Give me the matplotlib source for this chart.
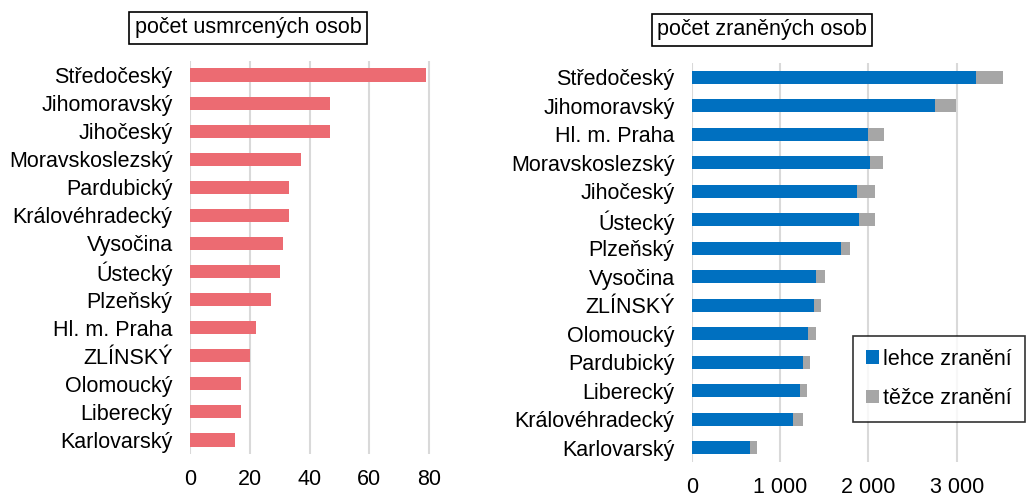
import matplotlib

matplotlib.use("Agg")
import matplotlib.pyplot as plt
import numpy as np

plt.rcParams["font.family"] = ["Liberation Sans", "DejaVu Sans"]

# killed persons by region
kraje_usmrceni = ["Středočeský", "Jihomoravský", "Jihočeský", "Moravskoslezský",
                  "Pardubický", "Královéhradecký", "Vysočina", "Ústecký",
                  "Plzeňský", "Hl. m. Praha", "ZLÍNSKÝ", "Olomoucký",
                  "Liberecký", "Karlovarský"]
usmrceni = [79, 47, 47, 37, 33, 33, 31, 30, 27, 22, 20, 17, 17, 15]

# injured persons by region
kraje_zraneni = ["Středočeský", "Jihomoravský", "Hl. m. Praha", "Moravskoslezský",
                 "Jihočeský", "Ústecký", "Plzeňský", "Vysočina", "ZLÍNSKÝ",
                 "Olomoucký", "Pardubický", "Liberecký", "Královéhradecký",
                 "Karlovarský"]
lehce = [3220, 2760, 2000, 2020, 1870, 1890, 1690, 1400, 1380, 1310, 1255, 1220, 1145, 655]
tezce = [300, 230, 175, 150, 205, 180, 105, 110, 80, 90, 80, 80, 115, 80]

RED = "#ec6b72"
BLUE = "#0070c0"
GREY = "#a6a6a6"
GRID = "#d9d9d9"
FS = 15.5

fig = plt.figure(figsize=(10.27, 4.98), dpi=100)
W, H = 1027, 498


def _axes(left, top, right, bottom):
    return fig.add_axes([left / W, 1 - bottom / H, (right - left) / W, (bottom - top) / H])


def _style(ax):
    for s in ax.spines.values():
        s.set_visible(False)
    ax.grid(axis="x", color=GRID, linewidth=1.5)
    ax.set_axisbelow(True)
    ax.tick_params(length=0, labelsize=FS, colors="black")
    ax.tick_params(axis="y", pad=12.5)
    ax.tick_params(axis="x", pad=11)


# left panel
ax1 = _axes(190, 61, 441, 454)
y1 = np.arange(len(kraje_usmrceni))
ax1.barh(y1, usmrceni, height=0.47, color=RED)
ax1.set_yticks(y1, kraje_usmrceni)
ax1.set_ylim(len(y1) - 0.5, -0.5)
ax1.set_xlim(0, 84)
ax1.set_xticks([0, 20, 40, 60, 80])
_style(ax1)
fig.text(248 / W, 1 - 28 / H, "počet usmrcených osob", fontsize=FS, ha="center", va="center",
         bbox=dict(boxstyle="square,pad=0.25", facecolor="white", edgecolor="black", linewidth=1.2))

# right panel
ax2 = _axes(692, 63, 1014, 462)
y2 = np.arange(len(kraje_zraneni))
ax2.barh(y2, lehce, height=0.47, color=BLUE, label="lehce zranění")
ax2.barh(y2, tezce, left=lehce, height=0.47, color=GREY, label="těžce zranění")
ax2.set_yticks(y2, kraje_zraneni)
ax2.set_ylim(len(y2) - 0.5, -0.5)
ax2.set_xlim(0, 3650)
ax2.set_xticks([0, 1000, 2000, 3000], ["0", "1 000", "2 000", "3 000"])
_style(ax2)
fig.text(762 / W, 1 - 30 / H, "počet zraněných osob", fontsize=FS, ha="center", va="center",
         bbox=dict(boxstyle="square,pad=0.25", facecolor="white", edgecolor="black", linewidth=1.2))

leg = ax2.legend(loc="upper left", bbox_to_anchor=(853 / W, 1 - 336 / H), bbox_transform=fig.transFigure,
                 fontsize=FS, frameon=True, fancybox=False, handlelength=0.6, handleheight=0.6,
                 handletextpad=0.2, labelspacing=0.85, borderpad=0.6, borderaxespad=0)
leg.get_frame().set_edgecolor("black")
leg.get_frame().set_linewidth(1.2)

fig.savefig("out.png", dpi=100)
